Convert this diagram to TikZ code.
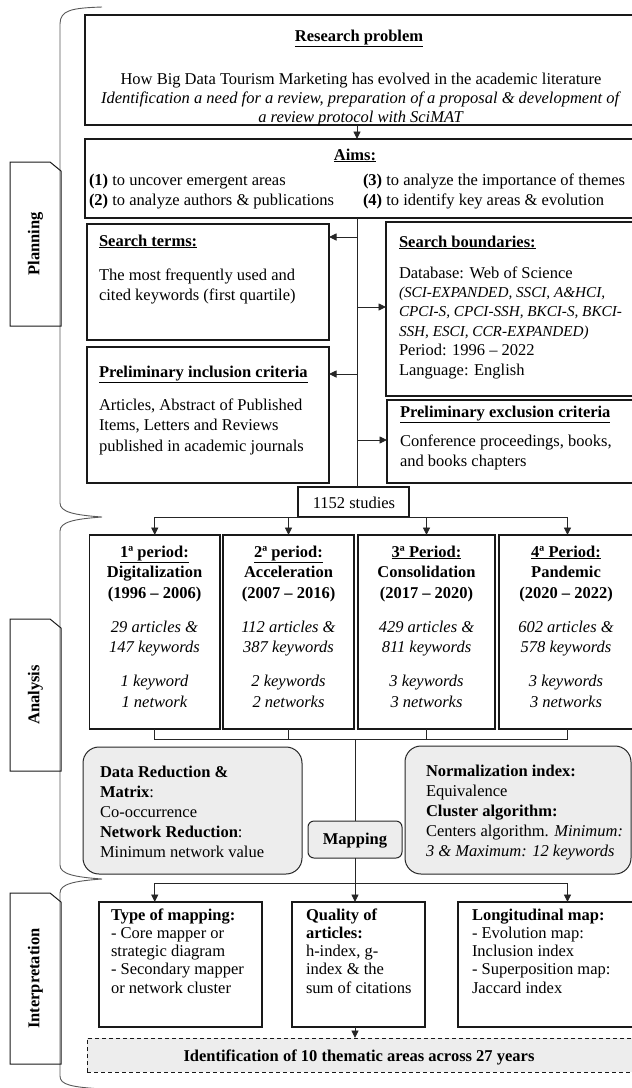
\documentclass[tikz,border=0pt]{standalone}
\usepackage{fontspec}
\setmainfont{Liberation Serif}
\usetikzlibrary{arrows.meta}
\newcommand\fsz{\fontsize{16.5}{19.5}\selectfont}
\newcommand\fsk[1]{\fontsize{16.5}{#1}\selectfont}
\newcommand\st{\rule{0pt}{12pt}}
\newcommand\smi[1]{{\fontsize{15.2}{19.4}\selectfont\textit{#1}}}
\begin{document}
\begin{tikzpicture}[x=1pt,y=-1pt, font=\fsz,
  box/.style={draw=black!90, line width=1.3pt, inner sep=0, outer sep=0, anchor=north west},
  gbox/.style={draw=black!85, line width=1pt, fill=black!7, rounded corners=16pt, inner sep=0, outer sep=0, anchor=north west},
  txt/.style={inner sep=0, outer sep=0, anchor=north west, align=left},
  ctxt/.style={inner sep=0, outer sep=0, anchor=north, align=center},
  ttl/.style={inner sep=0, outer sep=0, anchor=base west, font=\fsz\bfseries},
  cttl/.style={inner sep=0, outer sep=0, anchor=base, font=\fsz\bfseries},
  conn/.style={line width=0.9pt, draw=black!85},
  arr/.style={conn, -{Triangle[length=7.5pt,width=7pt]}},
  brk/.style={line width=0.9pt, draw=black!65},
  lbl/.style={draw=black!90, line width=1pt},
  lbltxt/.style={font=\fsz\bfseries, rotate=90, inner sep=0}
]
\useasboundingbox (0,0) rectangle (632,1088);

% left bracket
\draw[brk] (102,7) .. controls (72,8) and (60,10) .. (60,24) -- (60,503)
  .. controls (60,512) and (74,515) .. (102,517) .. controls (74,519) and (60,522) .. (60,531)
  -- (60,865) .. controls (60,874) and (74,877) .. (102,879) .. controls (74,881) and (60,884) .. (60,893)
  -- (60,1076) .. controls (60,1085) and (72,1087) .. (102,1089);

% phase labels
\draw[lbl] (10,162) -- (50,162) -- (61,171) -- (61,326) -- (10,326) -- cycle;
\node[lbltxt] (lplan) at (35.5,244) {Planning};
\draw[lbl] (10,619) -- (50,619) -- (61,628) -- (61,771) -- (10,771) -- cycle;
\node[lbltxt] (lana) at (35.5,695) {Analysis};
\draw[lbl] (10,893) -- (50,893) -- (61,902) -- (61,1064) -- (10,1064) -- cycle;
\node[lbltxt] (lint) at (35.5,978.5) {Interpretation};

% ---------- Planning ----------
\node[box, minimum width=551pt, minimum height=110pt] (rp) at (85,15) {};
\node[cttl] (rpt) at (359,41) {\underline{Research problem}};
\node[ctxt, font=\fsk{19}] (rpb) at (361,72) {\st How Big Data Tourism Marketing has evolved in the academic literature\\
  \textit{Identification a need for a review, preparation of a proposal \& development of}\\
  \textit{a review protocol with SciMAT}};

\node[box, minimum width=551pt, minimum height=79pt] (aims) at (85,139) {};
\node[cttl] (aimst) at (355,160) {\underline{Aims:}};
\node[txt, font=\fsk{20}] (aimsl) at (89,173) {\st\textbf{(1)} to uncover emergent areas\\\textbf{(2)} to analyze authors \& publications};
\node[txt, font=\fsk{20}] (aimsr) at (363,173) {\st\textbf{(3)} to analyze the importance of themes\\\textbf{(4)} to identify key areas \& evolution};

\node[box, minimum width=242pt, minimum height=116pt] (terms) at (87,224) {};
\node[ttl] (termst) at (99,246) {\underline{Search terms:}};
\node[txt, font=\fsk{20}] (termsb) at (99,268) {\st The most frequently used and\\cited keywords (first quartile)};

\node[box, minimum width=250pt, minimum height=174pt] (bound) at (386,222) {};
\node[ttl] (boundt) at (399,247) {\underline{Search boundaries:}};
\node[txt, font=\fsk{19.4}] (boundb) at (399,266) {\st Database: Web of Science\\
  \smi{(SCI-EXPANDED, SSCI, A\&HCI,}\\
  \smi{CPCI-S, CPCI-SSH, BKCI-S, BKCI-}\\
  \smi{SSH, ESCI, CCR-EXPANDED)}\\
  Period: 1996 – 2022\\
  Language: English};

\node[box, minimum width=242pt, minimum height=136pt] (incl) at (87,347) {};
\node[ttl] (inclt) at (99,377) {\underline{Preliminary inclusion criteria}};
\node[txt, font=\fsk{20.5}] (inclb) at (99,398) {\st Articles, Abstract of Published\\Items, Letters and Reviews\\published in academic journals};

\node[box, minimum width=249pt, minimum height=83pt] (excl) at (387,400) {};
\node[ttl] (exclt) at (400,417) {\underline{Preliminary exclusion criteria}};
\node[txt, font=\fsk{20}] (exclb) at (400,434) {\st Conference proceedings, books,\\and books chapters};

\node[box, minimum width=111pt, minimum height=30pt] (studies) at (298,487) {};
\node[cttl, font=\fsz] (studiest) at (354,508) {1152 studies};

% trunk and branches
\coordinate (sp) at (357,0);
\draw[arr] (rp.south -| sp) -- (aims.north -| sp);
\draw[conn] (aims.south -| sp) -- (studies.north -| sp);
\coordinate (a1) at (357,237);
\coordinate (a2) at (357,307);
\coordinate (a3) at (357,374);
\coordinate (a4) at (357,440);
\draw[arr] (a1) -- (terms.east |- a1);
\draw[arr] (a2) -- (bound.west |- a2);
\draw[arr] (a3) -- (incl.east |- a3);
\draw[arr] (a4) -- (excl.west |- a4);

% ---------- Analysis ----------
\node[box, minimum width=130.5pt, minimum height=194pt] (p1) at (89.5,535) {};
\node[box, minimum width=131pt, minimum height=194pt] (p2) at (223,535) {};
\node[box, minimum width=137pt, minimum height=194pt] (p3) at (358,535) {};
\node[box, minimum width=137pt, minimum height=194pt] (p4) at (499,535) {};

\node[ctxt, font=\fsk{20.5}] (p1t) at (154.5,545) {\st\textbf{\underline{1ª period:}}\\\textbf{Digitalization}\\\textbf{(1996 – 2006)}\\[13.5pt]
  \textit{29 articles \&}\\\textit{147 keywords}\\[13.5pt]\textit{1 keyword}\\\textit{1 network}};
\node[ctxt, font=\fsk{20.5}] (p2t) at (288.5,545) {\st\textbf{\underline{2ª period:}}\\\textbf{Acceleration}\\\textbf{(2007 – 2016)}\\[13.5pt]
  \textit{112 articles \&}\\\textit{387 keywords}\\[13.5pt]\textit{2 keywords}\\\textit{2 networks}};
\node[ctxt, font=\fsk{20.5}] (p3t) at (426.5,545) {\st\textbf{\underline{3ª Period:}}\\\textbf{Consolidation}\\\textbf{(2017 – 2020)}\\[13.5pt]
  \textit{429 articles \&}\\\textit{811 keywords}\\[13.5pt]\textit{3 keywords}\\\textit{3 networks}};
\node[ctxt, font=\fsk{20.5}] (p4t) at (566,545) {\st\textbf{\underline{4ª Period:}}\\\textbf{Pandemic}\\\textbf{(2020 – 2022)}\\[13.5pt]
  \textit{602 articles \&}\\\textit{578 keywords}\\[13.5pt]\textit{3 keywords}\\\textit{3 networks}};

\draw[conn] (studies.south -| p1) -- (studies.south -| p4);
\draw[arr] (studies.south -| p1) -- (p1.north);
\draw[arr] (studies.south -| p2) -- (p2.north);
\draw[arr] (studies.south -| p3) -- (p3.north);
\draw[arr] (studies.south -| p4) -- (p4.north);

\coordinate (jn) at (355,739);
\draw[conn] (p1.south) -- (p1.south |- jn) -- (p4.south |- jn) -- (p4.south);
\draw[conn] (p2.south) -- (p2.south |- jn);
\draw[conn] (p3.south) -- (p3.south |- jn);

\node[gbox, minimum width=219pt, minimum height=127pt] (g1) at (83,747) {};
\node[txt, font=\fsk{20}] (g1t) at (100,765) {\st\textbf{Data Reduction \&}\\\textbf{Matrix}:\\Co-occurrence\\\textbf{Network Reduction}:\\Minimum network value};
\node[gbox, minimum width=226pt, minimum height=128pt] (g2) at (405,746) {};
\node[txt, font=\fsk{20}] (g2t) at (426,764) {\st\textbf{Normalization index:}\\Equivalence\\\textbf{Cluster algorithm:}\\Centers algorithm. \textit{Minimum:}\\\textit{3 \& Maximum: 12 keywords}};
\node[gbox, rounded corners=6pt, minimum width=94pt, minimum height=37pt] (map) at (308,821) {};
\node[cttl] (mapt) at (355,844) {Mapping};
\draw[conn] (map.north |- jn) -- (map.north);

% ---------- Interpretation ----------
\coordinate (d2) at (355,883);
\node[box, minimum width=163pt, minimum height=125pt] (b1) at (99,902) {};
\node[box, minimum width=133pt, minimum height=125pt] (b2) at (292,902) {};
\node[box, minimum width=178pt, minimum height=125pt] (b3) at (458,902) {};
\draw[conn] (map.south) -- (map.south |- d2);
\draw[conn] (p1.south |- d2) -- (p4.south |- d2);
\draw[arr] (p1.south |- d2) -- (p1.south |- b1.north);
\draw[arr] (map.south |- d2) -- (map.south |- b2.north);
\draw[arr] (p4.south |- d2) -- (p4.south |- b3.north);

\node[txt, font=\fsk{18.3}] (b1t) at (111,908) {\st\textbf{Type of mapping:}\\- Core mapper or\\strategic diagram\\- Secondary mapper\\or network cluster};
\node[txt, font=\fsk{18.3}] (b2t) at (306,908) {\st\textbf{Quality of}\\\textbf{articles:}\\h-index, g-\\index \& the\\sum of citations};
\node[txt, font=\fsk{18.3}] (b3t) at (472,908) {\st\textbf{Longitudinal map:}\\- Evolution map:\\Inclusion index\\- Superposition map:\\Jaccard index};

\node[box, dashed, dash pattern=on 4pt off 3pt, line width=1pt, fill=black!7, minimum width=549pt, minimum height=34pt] (fin) at (87,1038) {};
\node[cttl] (fint) at (359,1061) {Identification of 10 thematic areas across 27 years};
\draw[arr] (map.south |- b2.south) -- (map.south |- fin.north);
\end{tikzpicture}
\end{document}
